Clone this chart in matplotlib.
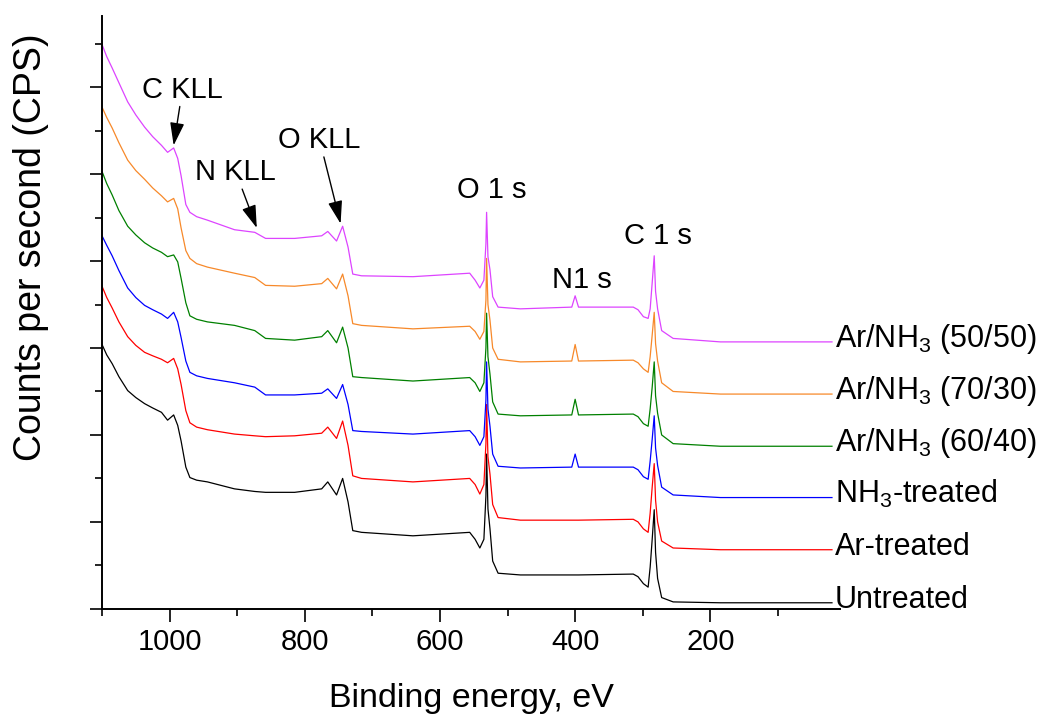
import matplotlib.pyplot as plt
from matplotlib.ticker import MultipleLocator, NullFormatter

plt.rcParams['font.family'] = 'Liberation Sans'
plt.rcParams['mathtext.default'] = 'regular'

# binding energy grid (eV) of the points
energy = [1100, 1093, 1085, 1075, 1062, 1050, 1037, 1025, 1012, 1003,
          994, 988, 983, 976, 970, 960, 944,
          904, 874, 858, 815, 775, 766, 753, 744, 736, 729, 716,
          640, 556, 548, 541, 535, 532, 531, 529, 526, 522, 514, 481,
          405, 400, 395, 314, 307, 299, 292, 289, 286, 283, 281, 278,
          272, 255, 185, 20]

# intensities (stacked, arbitrary CPS units, 1 = one major tick)
untreated = [3.04, 2.92, 2.82, 2.67, 2.51, 2.43, 2.36, 2.31, 2.26, 2.17,
             2.23, 2.11, 1.93, 1.63, 1.51, 1.48, 1.46,
             1.38, 1.35, 1.34, 1.34, 1.38, 1.46, 1.31, 1.50, 1.23, 0.90, 0.88,
             0.84, 0.88, 0.80, 0.70, 0.80, 1.30, 1.78, 1.15, 0.92, 0.55, 0.41, 0.39,
             0.39, 0.39, 0.39, 0.40, 0.37, 0.29, 0.25, 0.48, 0.80, 1.14, 0.65, 0.35,
             0.13, 0.08, 0.07, 0.07]
ar_treated = [3.71, 3.58, 3.46, 3.30, 3.13, 3.03, 2.95, 2.91, 2.87, 2.83,
              2.88, 2.76, 2.58, 2.28, 2.14, 2.09, 2.06,
              2.01, 1.99, 1.98, 1.99, 2.02, 2.09, 1.96, 2.16, 1.88, 1.53, 1.50,
              1.46, 1.50, 1.43, 1.32, 1.43, 1.90, 2.35, 1.75, 1.55, 1.20, 1.05, 1.02,
              1.02, 1.02, 1.02, 1.03, 1.00, 0.92, 0.88, 1.10, 1.40, 1.67, 1.25, 1.00,
              0.78, 0.70, 0.68, 0.68]
nh3_treated = [4.29, 4.18, 4.06, 3.89, 3.69, 3.58, 3.49, 3.44, 3.39, 3.34,
               3.41, 3.30, 3.12, 2.85, 2.72, 2.68, 2.65,
               2.60, 2.55, 2.46, 2.46, 2.48, 2.53, 2.42, 2.58, 2.35, 2.05, 2.04,
               2.01, 2.05, 1.98, 1.88, 1.98, 2.40, 2.84, 2.30, 2.10, 1.78, 1.64, 1.62,
               1.63, 1.78, 1.63, 1.63, 1.60, 1.52, 1.49, 1.70, 1.95, 2.22, 1.85, 1.65,
               1.40, 1.31, 1.28, 1.28]
ar_nh3_6040 = [5.03, 4.89, 4.76, 4.58, 4.40, 4.30, 4.21, 4.15, 4.10, 4.05,
               4.07, 3.99, 3.80, 3.52, 3.37, 3.33, 3.30,
               3.26, 3.20, 3.11, 3.09, 3.13, 3.20, 3.06, 3.24, 3.00, 2.67, 2.66,
               2.62, 2.66, 2.60, 2.50, 2.60, 3.00, 3.40, 2.90, 2.70, 2.38, 2.24, 2.22,
               2.23, 2.41, 2.23, 2.24, 2.21, 2.13, 2.10, 2.30, 2.55, 2.84, 2.45, 2.25,
               2.00, 1.90, 1.87, 1.87]
ar_nh3_7030 = [5.77, 5.65, 5.53, 5.36, 5.16, 5.04, 4.94, 4.84, 4.75, 4.68,
               4.72, 4.60, 4.38, 4.12, 4.03, 3.97, 3.93,
               3.86, 3.81, 3.72, 3.71, 3.74, 3.80, 3.68, 3.85, 3.60, 3.28, 3.26,
               3.22, 3.25, 3.19, 3.10, 3.19, 3.55, 4.03, 3.50, 3.32, 3.00, 2.87, 2.84,
               2.85, 3.04, 2.85, 2.86, 2.83, 2.76, 2.72, 2.90, 3.15, 3.41, 3.05, 2.85,
               2.60, 2.50, 2.47, 2.47]
ar_nh3_5050 = [6.49, 6.35, 6.22, 6.05, 5.83, 5.68, 5.54, 5.43, 5.33, 5.25,
               5.30, 5.18, 4.98, 4.65, 4.56, 4.51, 4.47,
               4.36, 4.33, 4.26, 4.26, 4.29, 4.34, 4.23, 4.40, 4.16, 3.85, 3.83,
               3.82, 3.86, 3.78, 3.69, 3.78, 4.20, 4.56, 4.05, 3.90, 3.59, 3.47, 3.45,
               3.47, 3.60, 3.47, 3.47, 3.44, 3.36, 3.34, 3.45, 3.75, 4.06, 3.65, 3.45,
               3.20, 3.11, 3.07, 3.07]

spectra = [untreated, ar_treated, nh3_treated, ar_nh3_6040, ar_nh3_7030, ar_nh3_5050]
labels = ['Untreated', 'Ar-treated', 'NH$_3$-treated',
          'Ar/NH$_3$ (60/40)', 'Ar/NH$_3$ (70/30)', 'Ar/NH$_3$ (50/50)']
colors = ['black', '#ff0000', '#0000ff', '#008000', '#f7892a', '#dd44ff']

fig = plt.figure(figsize=(10.41, 7.18), dpi=100)
ax = fig.add_axes([0.098, 0.152, 0.709, 0.826])

for vals, col, lab in zip(spectra, colors, labels):
    ax.plot(energy, vals, color=col, lw=0.9)
    ax.annotate(lab, xy=(energy[-1], vals[-1]), xytext=(2, -3.5),
                textcoords='offset points', ha='left', va='baseline',
                fontsize=22, annotation_clip=False)

# peak annotations
arrow = dict(arrowstyle='-|>,head_length=0.7,head_width=0.22',
             color='black', lw=1, mutation_scale=20, shrinkA=0, shrinkB=0)
ax.annotate('C KLL', xy=(994, 5.33), xytext=(981, 5.97), fontsize=21,
            ha='center', va='center', arrowprops=arrow)
ax.annotate('N KLL', xy=(871, 4.38), xytext=(902, 5.02), fontsize=21,
            ha='center', va='center', arrowprops=arrow)
ax.annotate('O KLL', xy=(747, 4.43), xytext=(778, 5.39), fontsize=21,
            ha='center', va='center', arrowprops=arrow)
ax.text(523, 4.82, 'O 1 s', fontsize=21, ha='center', va='center')
ax.text(390, 3.78, 'N1 s', fontsize=21, ha='center', va='center')
ax.text(277, 4.29, 'C 1 s', fontsize=21, ha='center', va='center')

ax.set_xlim(1100, 8)
ax.set_ylim(0, 6.82)
ax.xaxis.set_major_locator(MultipleLocator(200))
ax.xaxis.set_minor_locator(MultipleLocator(100))
ax.yaxis.set_major_locator(MultipleLocator(1))
ax.yaxis.set_minor_locator(MultipleLocator(0.5))
ax.yaxis.set_major_formatter(NullFormatter())

ax.spines['top'].set_visible(False)
ax.spines['right'].set_visible(False)
ax.spines['left'].set_linewidth(1.4)
ax.spines['bottom'].set_linewidth(1.4)
ax.tick_params(which='major', direction='out', length=9, width=1.2, labelsize=21, pad=5)
ax.tick_params(which='minor', direction='out', length=5, width=1.2)

ax.set_xlabel('Binding energy, eV', fontsize=24.5, labelpad=19)
ax.set_ylabel('Counts per second (CPS)', fontsize=27)
ax.yaxis.set_label_coords(-0.072, 0.61)

plt.savefig('out.png', dpi=100)
